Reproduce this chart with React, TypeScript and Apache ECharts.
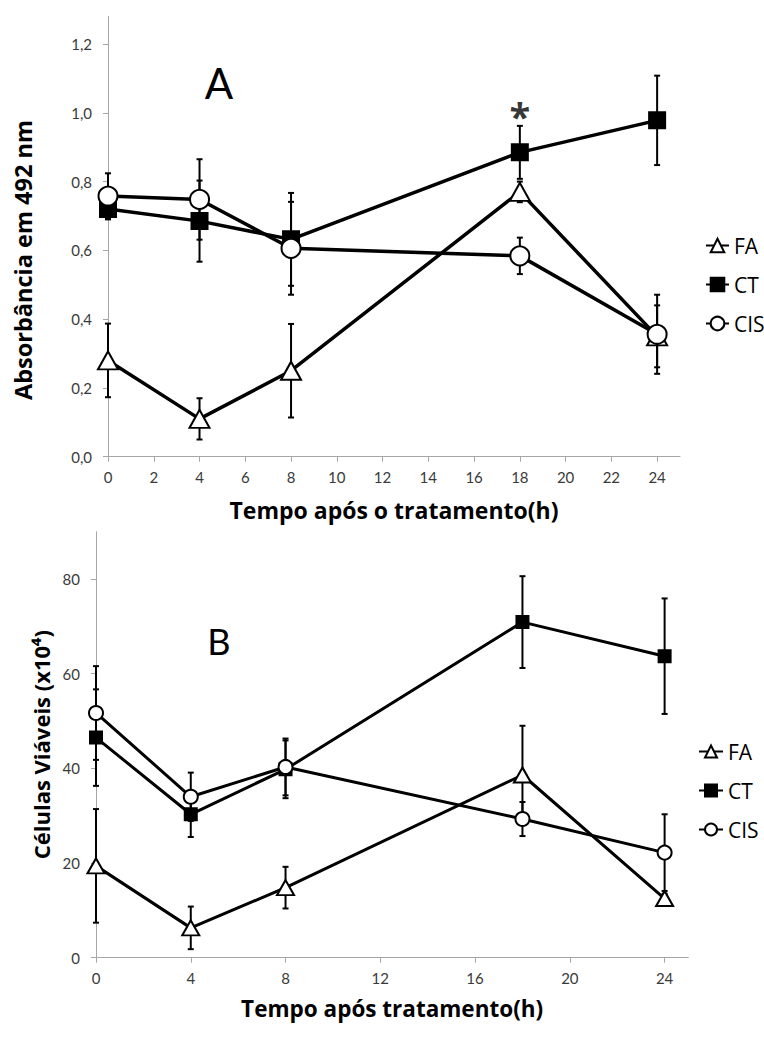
import React, { useEffect, useRef } from "react";
import * as echarts from "echarts";

// Horas após o tratamento em que as amostras foram medidas
const hours = [0, 4, 8, 18, 24];

// Painel A: absorbância em 492 nm (média e desvio)
const faAbs = [0.28, 0.11, 0.25, 0.77, 0.35];
const faAbsErr = [0.107, 0.06, 0.136, 0.03, 0.09];
const ctAbs = [0.72, 0.685, 0.632, 0.885, 0.978];
const ctAbsErr = [0.03, 0.118, 0.135, 0.077, 0.13];
const cisAbs = [0.758, 0.748, 0.606, 0.584, 0.356];
const cisAbsErr = [0.066, 0.117, 0.135, 0.053, 0.115];

// Painel B: células viáveis (x10^4)
const faCells = [19.4, 6.3, 14.8, 38.6, 12.5];
const faCellsErr = [12, 4.5, 4.4, 10.4, 1];
const ctCells = [46.5, 30.3, 39.8, 70.9, 63.7];
const ctCellsErr = [10.2, 4.8, 6.1, 9.7, 12.2];
const cisCells = [51.7, 34.0, 40.3, 29.3, 22.2];
const cisCellsErr = [9.9, 5.1, 6, 3.6, 8.1];

// Marcas dos eixos
const absTicks = [0, 0.2, 0.4, 0.6, 0.8, 1.0, 1.2];
const absHourTicks = [0, 2, 4, 6, 8, 10, 12, 14, 16, 18, 20, 22, 24];
const cellTicks = [0, 20, 40, 60, 80];
const cellHourTicks = [0, 4, 8, 12, 16, 20, 24];

const groups = ["FA", "CT", "CIS"];

// Diferença significativa assinalada no painel A
const significance = [[18, 1.02]];

const FONT = "Lato";
const TITLE_FONT = "Open Sans";
const AXIS_GRAY = "#a6a6a6";
const LABEL_GRAY = "#3a3a3a";

const errorBar = (capHalf: number) => (params: any, api: any) => {
  const x = api.value(0);
  const top = api.coord([x, api.value(2)]);
  const bot = api.coord([x, api.value(1)]);
  const style = { stroke: "#000", lineWidth: 2 };
  return {
    type: "group",
    children: [
      { type: "line", shape: { x1: top[0], y1: top[1], x2: bot[0], y2: bot[1] }, style },
      { type: "line", shape: { x1: top[0] - capHalf, y1: top[1], x2: top[0] + capHalf, y2: top[1] }, style },
      { type: "line", shape: { x1: bot[0] - capHalf, y1: bot[1], x2: bot[0] + capHalf, y2: bot[1] }, style },
    ],
  };
};

type Marker = { symbol: string; size: any; fill: string };

function panelSeries(
  panel: string,
  grid: number,
  values: number[][],
  errors: number[][],
  markers: Marker[],
  lineWidth: number
) {
  const out: any[] = [];
  groups.forEach((g, i) => {
    const z = 2 + i * 2;
    out.push({
      type: "custom",
      name: "err-" + g + "|" + panel,
      xAxisIndex: grid,
      yAxisIndex: grid,
      renderItem: errorBar(3),
      encode: { x: 0, y: [1, 2] },
      data: hours.map((h, k) => [h, values[i][k] - errors[i][k], values[i][k] + errors[i][k]]),
      z,
      silent: true,
    });
    out.push({
      type: "line",
      name: g + "|" + panel,
      xAxisIndex: grid,
      yAxisIndex: grid,
      data: hours.map((h, k) => [h, values[i][k]]),
      symbol: markers[i].symbol,
      symbolSize: markers[i].size,
      showAllSymbol: true,
      lineStyle: { color: "#000", width: lineWidth },
      itemStyle: { color: markers[i].fill, borderColor: "#000", borderWidth: 2, opacity: 1 },
      z: z + 1,
    });
  });
  return out;
}

function axisCommon(ticks: number[], margin: number) {
  return {
    axisLine: { show: true, lineStyle: { color: AXIS_GRAY, width: 1 } },
    axisTick: { show: true, length: 5, lineStyle: { color: AXIS_GRAY }, customValues: ticks },
    axisLabel: { color: LABEL_GRAY, fontSize: 15, fontFamily: FONT, margin, customValues: ticks },
    splitLine: { show: false },
  };
}

const titleStyle = { fontSize: 22.5, fontWeight: "bold", fontFamily: TITLE_FONT, color: "#000" };

export default function App() {
  const ref = useRef<HTMLDivElement>(null);

  useEffect(() => {
    if (!ref.current) return;
    const chart = echarts.init(ref.current, undefined, { renderer: "svg" });

    const seriesA = panelSeries(
      "A",
      0,
      [faAbs, ctAbs, cisAbs],
      [faAbsErr, ctAbsErr, cisAbsErr],
      [
        { symbol: "triangle", size: [20, 18], fill: "#fff" },
        { symbol: "rect", size: 16, fill: "#000" },
        { symbol: "circle", size: 19, fill: "#fff" },
      ],
      3.5
    );
    const seriesB = panelSeries(
      "B",
      1,
      [faCells, ctCells, cisCells],
      [faCellsErr, ctCellsErr, cisCellsErr],
      [
        { symbol: "triangle", size: [17, 15], fill: "#fff" },
        { symbol: "rect", size: 12, fill: "#000" },
        { symbol: "circle", size: 14, fill: "#fff" },
      ],
      3
    );

    const legendBase = {
      orient: "vertical",
      selectedMode: false,
      formatter: (n: string) => n.split("|")[0],
      textStyle: { fontSize: 21, fontFamily: TITLE_FONT, color: "#000", lineHeight: 20 },
      itemGap: 18,
    };

    const numComma = (v: number) => v.toFixed(1).replace(".", ",");

    chart.setOption({
      animation: false,
      backgroundColor: "#fff",
      grid: [
        { left: 108, top: 16.5, width: 572, height: 440.2 },
        { left: 96, top: 531.7, width: 592.3, height: 426 },
      ],
      xAxis: [
        {
          type: "value",
          gridIndex: 0,
          min: 0,
          max: 25,
          ...axisCommon(absHourTicks, 13),
          name: "Tempo após o tratamento(h)",
          nameLocation: "middle",
          nameGap: 42,
          nameTextStyle: { ...titleStyle, fontSize: 23 },
        },
        {
          type: "value",
          gridIndex: 1,
          min: 0,
          max: 25,
          ...axisCommon(cellHourTicks, 13),
          name: "Tempo após tratamento(h)",
          nameLocation: "middle",
          nameGap: 39,
          nameTextStyle: titleStyle,
        },
      ],
      yAxis: [
        (() => {
          const c: any = axisCommon(absTicks, 16);
          c.axisLabel.formatter = numComma;
          return { type: "value", gridIndex: 0, min: 0, max: 1.28, ...c };
        })(),
        {
          type: "value",
          gridIndex: 1,
          min: 0,
          max: 90,
          ...axisCommon(cellTicks, 16),
          name: "Células Viáveis (x10⁴)",
          nameLocation: "middle",
          nameGap: 40,
          nameTextStyle: { ...titleStyle, fontSize: 22 },
        },
      ],
      legend: [
        {
          ...legendBase,
          left: 700,
          top: 230,
          itemWidth: 23,
          itemHeight: 17,
          data: groups.map((g) => g + "|A"),
        },
        {
          ...legendBase,
          left: 693,
          top: 736,
          itemWidth: 24,
          itemHeight: 15,
          data: groups.map((g) => g + "|B"),
        },
      ],
      graphic: [
        {
          type: "text",
          x: 23,
          y: 260,
          rotation: Math.PI / 2,
          style: {
            text: "Absorbância em 492 nm",
            align: "center",
            verticalAlign: "middle",
            fontSize: 23.5,
            fontWeight: "bold",
            fontFamily: TITLE_FONT,
            fill: "#000",
          },
        },
        {
          type: "text",
          x: 219,
          y: 83,
          style: { text: "A", align: "center", verticalAlign: "middle", fontSize: 42, fontFamily: FONT, fill: "#000" },
        },
        {
          type: "text",
          x: 219,
          y: 641,
          style: { text: "B", align: "center", verticalAlign: "middle", fontSize: 36, fontFamily: FONT, fill: "#000" },
        },
      ],
      series: [
        ...seriesA,
        ...seriesB,
        {
          type: "scatter",
          name: "sig",
          xAxisIndex: 0,
          yAxisIndex: 0,
          data: significance,
          symbolSize: 1,
          itemStyle: { color: "rgba(0,0,0,0)" },
          label: {
            show: true,
            position: "inside",
            formatter: "*",
            fontSize: 38,
            fontWeight: "bold",
            fontFamily: TITLE_FONT,
            color: "#000",
            offset: [0, 10],
          },
          silent: true,
          z: 10,
        },
      ],
    });

    return () => chart.dispose();
  }, []);

  return (
    <div
      ref={ref}
      style={{ position: "fixed", left: 0, top: 0, width: 764, height: 1044, background: "#fff" }}
    />
  );
}
